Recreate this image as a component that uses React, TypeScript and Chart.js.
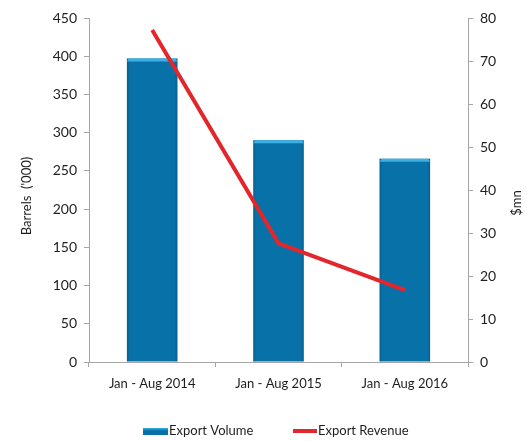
import React, { useEffect, useRef } from "react";
import { Chart, registerables } from "chart.js";

Chart.register(...registerables);

const categories = ["Jan - Aug 2014", "Jan - Aug 2015", "Jan - Aug 2016"];
const exportVolume = [397, 290, 266];
const exportRevenue = [77.2, 27.6, 16.7];
const leftTitle = "Barrels  ('000)";
const rightTitle = "$mn";
const volumeLabel = "Export Volume";
const revenueLabel = "Export Revenue";

const FONT = "Lato, 'Open Sans', sans-serif";
const BAR = "#0872a8";
const BAR_LIGHT = "#3cb0e4";
const LINE = "#e3262b";
const AXIS = "#a6a6a6";
const TEXT = "#1e1e1e";

export default function App() {
  const ref = useRef<HTMLCanvasElement>(null);
  useEffect(() => {
    if (!ref.current) return;
    const extras = {
      id: "extras",
      afterDatasetDraw(chart: any, args: any) {
        const meta = args.meta;
        if (meta.type !== "bar") return;
        const ctx = chart.ctx;
        ctx.save();
        meta.data.forEach((bar: any) => {
          const w = bar.width;
          const l = bar.x - w / 2;
          const r = bar.x + w / 2;
          const t = bar.y;
          const b = bar.base;
          if (![w, l, r, t, b].every(Number.isFinite)) return;
          const g = ctx.createLinearGradient(l, 0, r, 0);
          g.addColorStop(0, "rgba(0,40,70,0.25)");
          g.addColorStop(0.06, "rgba(0,40,70,0)");
          g.addColorStop(0.94, "rgba(0,40,70,0)");
          g.addColorStop(1, "rgba(0,40,70,0.25)");
          ctx.fillStyle = g;
          ctx.fillRect(l, t, w, b - t);
          ctx.fillStyle = BAR_LIGHT;
          ctx.beginPath();
          ctx.moveTo(l, t + 3);
          ctx.lineTo(l + 2, t);
          ctx.lineTo(r - 2, t);
          ctx.lineTo(r, t + 3);
          ctx.closePath();
          ctx.fill();
        });
        ctx.restore();
      },
      afterDraw(chart: any) {
        const ctx = chart.ctx;
        ctx.save();
        ctx.fillStyle = TEXT;
        ctx.font = `13px ${FONT}`;
        ctx.textAlign = "center";
        ctx.textBaseline = "middle";
        ctx.save();
        ctx.translate(27, 196);
        ctx.rotate(-Math.PI / 2);
        ctx.fillText(leftTitle, 0, 0);
        ctx.restore();
        ctx.save();
        ctx.translate(517, 203);
        ctx.rotate(-Math.PI / 2);
        ctx.fillText(rightTitle, 0, 0);
        ctx.restore();
        const ly = 431;
        ctx.font = `13px ${FONT}`;
        ctx.textAlign = "left";
        const g = ctx.createLinearGradient(0, ly - 3, 0, ly + 4);
        g.addColorStop(0, BAR_LIGHT);
        g.addColorStop(0.4, BAR);
        g.addColorStop(1, BAR);
        ctx.fillStyle = g;
        ctx.fillRect(143, ly - 3, 25, 7);
        ctx.fillStyle = TEXT;
        ctx.fillText(volumeLabel, 169, ly);
        ctx.strokeStyle = LINE;
        ctx.lineWidth = 4;
        ctx.beginPath();
        ctx.moveTo(293, ly);
        ctx.lineTo(317, ly);
        ctx.stroke();
        ctx.fillText(revenueLabel, 318, ly);
        ctx.restore();
      },
    };
    const chart = new Chart(ref.current, {
      type: "bar",
      data: {
        labels: categories,
        datasets: [
          {
            type: "line",
            label: revenueLabel,
            data: exportRevenue,
            yAxisID: "y1",
            borderColor: LINE,
            backgroundColor: LINE,
            borderWidth: 4,
            pointRadius: 0,
            tension: 0,
            order: 0,
          } as any,
          {
            type: "bar",
            label: volumeLabel,
            data: exportVolume,
            yAxisID: "y",
            backgroundColor: BAR,
            borderWidth: 0,
            barPercentage: 0.4,
            categoryPercentage: 1,
            order: 1,
          },
        ],
      },
      options: {
        animation: false,
        responsive: false,
        maintainAspectRatio: false,
        layout: { padding: { top: 18, left: 0, right: 0, bottom: 0 } },
        plugins: {
          legend: { display: false },
          tooltip: { enabled: false },
        },
        scales: {
          x: {
            grid: {
              offset: true,
              drawOnChartArea: false,
              drawTicks: true,
              tickLength: 5,
              color: AXIS,
            },
            border: { color: AXIS, width: 1 },
            ticks: { font: { family: FONT, size: 13 }, color: TEXT, padding: 9 },
            afterFit(scale: any) {
              scale.height = 79;
            },
          },
          y: {
            position: "left",
            min: 0,
            max: 450,
            grid: { drawOnChartArea: false, drawTicks: true, tickLength: 5, color: AXIS },
            border: { color: AXIS, width: 1 },
            ticks: { stepSize: 50, font: { family: FONT, size: 14 }, color: TEXT, padding: 7 },
            afterFit(scale: any) {
              scale.width = 89;
            },
          },
          y1: {
            position: "right",
            min: 0,
            max: 80,
            grid: { drawOnChartArea: false, drawTicks: true, tickLength: 5, color: AXIS },
            border: { color: AXIS, width: 1 },
            ticks: { stepSize: 10, font: { family: FONT, size: 14 }, color: TEXT, padding: 7 },
            afterFit(scale: any) {
              scale.width = 59;
            },
          },
        },
      },
      plugins: [extras],
    });
    return () => chart.destroy();
  }, []);
  return (
    <div style={{ position: "absolute", left: 0, top: 0, width: 527, height: 441, background: "#fff" }}>
      <canvas ref={ref} width={527} height={441} />
    </div>
  );
}
